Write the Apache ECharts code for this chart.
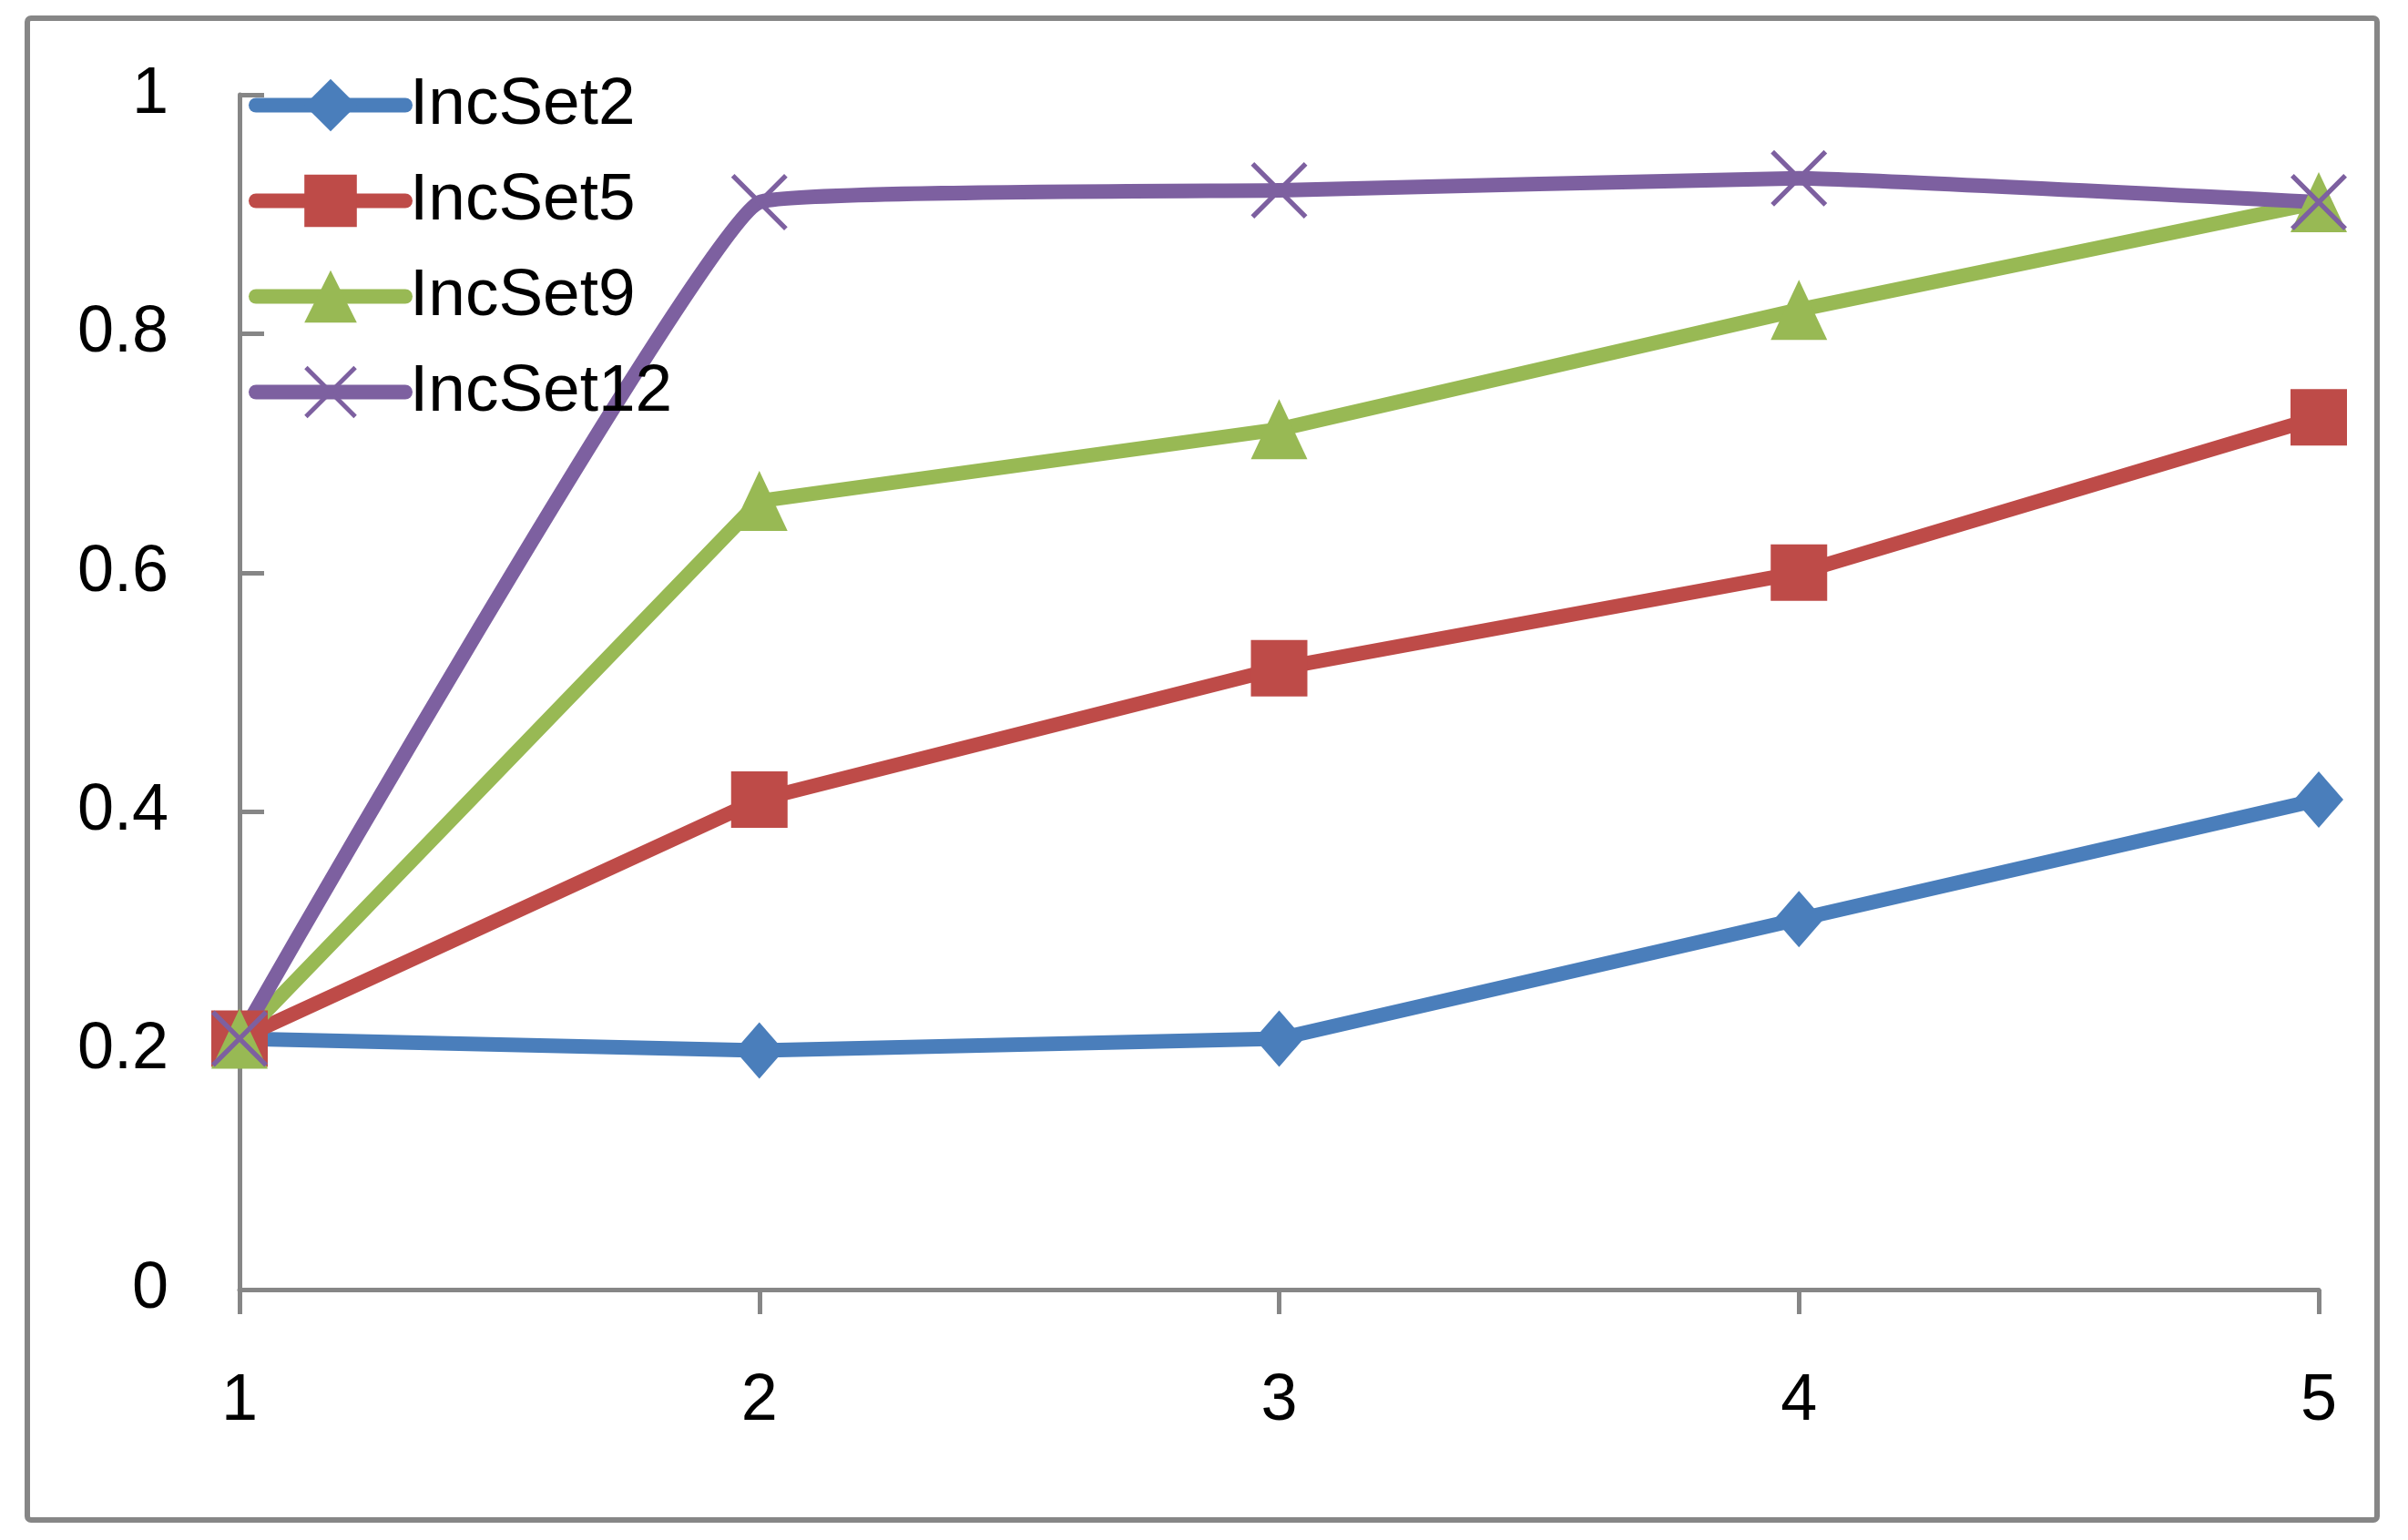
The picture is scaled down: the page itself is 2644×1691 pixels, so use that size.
<!DOCTYPE html>
<html>
<head>
<meta charset="utf-8">
<script src="https://cdn.jsdelivr.net/npm/echarts@6/dist/echarts.min.js"></script>
<style>
html,body{margin:0;padding:0;background:#fff;}
#chart{width:2644px;height:1691px;}
</style>
</head>
<body>
<div id="chart"></div>
<script>
const categories = ['1', '2', '3', '4', '5'];
const seriesNames = ['IncSet2', 'IncSet5', 'IncSet9', 'IncSet12'];
const incSet2 = [0.21, 0.20, 0.21, 0.31, 0.41];
const incSet5 = [0.21, 0.41, 0.52, 0.60, 0.73];
const incSet9 = [0.21, 0.66, 0.72, 0.82, 0.91];
const incSet12 = [0.21, 0.91, 0.92, 0.93, 0.91];
const yTicks = { min: 0, max: 1, interval: 0.2 };

const colors = ['#4A7EBB', '#BE4B48', '#98B954', '#7D60A0'];
const FONT = '"Liberation Sans", Arial, sans-serif';
const xPath = 'path://M0,6 L6,0 L100,94 L94,100 Z M94,0 L100,6 L6,100 L0,94 Z';

const chart = echarts.init(document.getElementById('chart'), null, { renderer: 'canvas' });

function mk(name, data, color, symbol, size, smooth) {
  return {
    name: name,
    type: 'line',
    data: data,
    smooth: smooth,
    symbol: symbol,
    symbolSize: size,
    showAllSymbol: true,
    lineStyle: { color: color, width: 16, cap: 'round', join: 'round' },
    itemStyle: { color: color, borderWidth: 0 },
    emphasis: { disabled: true },
    animation: false
  };
}

chart.setOption({
  animation: false,
  backgroundColor: '#ffffff',
  graphic: [{
    type: 'rect',
    shape: { x: 30, y: 20, width: 2580, height: 1649, r: 4 },
    style: { fill: 'none', stroke: '#868686', lineWidth: 6 },
    z: -1
  }],
  grid: { left: 263, right: 98, top: 104, bottom: 275, containLabel: false },
  legend: {
    orient: 'vertical',
    left: 268,
    top: 74,
    itemWidth: 164,
    itemHeight: 72,
    itemGap: 32,
    data: seriesNames,
    lineStyle: { width: 16, cap: 'round' },
    textStyle: { fontFamily: FONT, fontSize: 73, color: '#000', padding: [0, 0, 0, 0] },
    selectedMode: false
  },
  xAxis: {
    type: 'category',
    data: categories,
    boundaryGap: false,
    axisLine: { show: true, lineStyle: { color: '#868686', width: 5 } },
    axisTick: { show: true, alignWithLabel: true, length: 27, lineStyle: { color: '#868686', width: 5 } },
    axisLabel: { fontFamily: FONT, fontSize: 72, color: '#000', margin: 87 },
    splitLine: { show: false }
  },
  yAxis: {
    type: 'value',
    min: yTicks.min,
    max: yTicks.max,
    interval: yTicks.interval,
    axisLine: { show: true, lineStyle: { color: '#868686', width: 5 } },
    axisTick: { show: true, inside: true, length: 27, lineStyle: { color: '#868686', width: 5 } },
    axisLabel: { fontFamily: FONT, fontSize: 72, color: '#000', margin: 78 },
    splitLine: { show: false }
  },
  series: [
    mk(seriesNames[0], incSet2, colors[0], 'diamond', [54, 62], false),
    mk(seriesNames[1], incSet5, colors[1], 'rect', 62, false),
    mk(seriesNames[2], incSet9, colors[2], 'triangle', [62, 66], false),
    mk(seriesNames[3], incSet12, colors[3], xPath, 62, 0.08)
  ]
});
</script>
</body>
</html>
